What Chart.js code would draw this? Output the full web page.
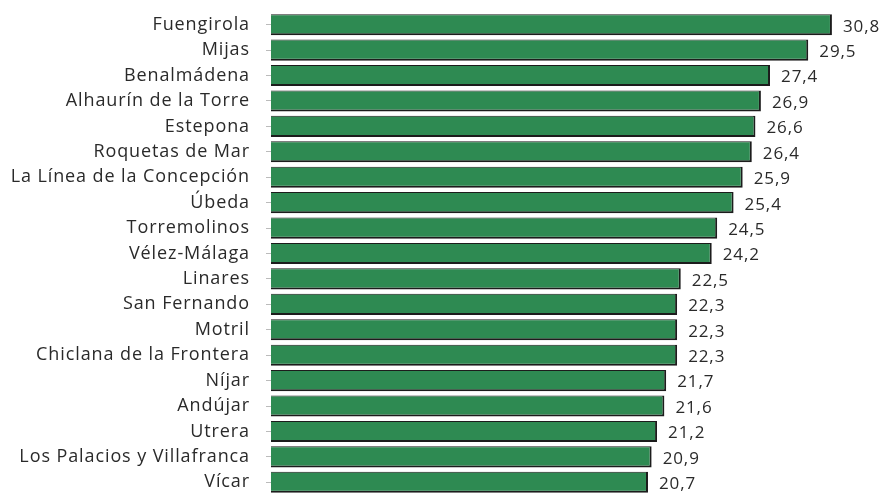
<!DOCTYPE html>
<html>
<head>
<meta charset="utf-8">
<script src="https://cdn.jsdelivr.net/npm/chart.js@4"></script>
<style>
  html, body { margin: 0; padding: 0; background: #fff; }
  #wrap { width: 883px; height: 495px; position: relative; }
</style>
</head>
<body>
<div id="wrap"><canvas id="chart"></canvas></div>
<script>
const municipios = [
  'Fuengirola', 'Mijas', 'Benalmádena', 'Alhaurín de la Torre', 'Estepona',
  'Roquetas de Mar', 'La Línea de la Concepción', 'Úbeda', 'Torremolinos',
  'Vélez-Málaga', 'Linares', 'San Fernando', 'Motril', 'Chiclana de la Frontera',
  'Níjar', 'Andújar', 'Utrera', 'Los Palacios y Villafranca', 'Vícar'
];
const valores = [30.8, 29.5, 27.4, 26.9, 26.6, 26.4, 25.9, 25.4, 24.5, 24.2,
  22.5, 22.3, 22.3, 22.3, 21.7, 21.6, 21.2, 20.9, 20.7];

// slightly looser text, like the original export
const spacing = {
  id: 'spacing',
  beforeDraw(chart) { chart.ctx.letterSpacing = '0.9px'; }
};

// value labels at the end of each bar, with decimal comma
const valueLabels = {
  id: 'valueLabels',
  afterDatasetsDraw(chart) {
    const ctx = chart.ctx;
    const meta = chart.getDatasetMeta(0);
    ctx.save();
    ctx.font = '17px "Open Sans"';
    ctx.fillStyle = '#2a2a2a';
    ctx.textBaseline = 'middle';
    ctx.textAlign = 'left';
    meta.data.forEach((bar, i) => {
      ctx.fillText(valores[i].toFixed(1).replace('.', ','), bar.x + 11, bar.y + 2);
    });
    ctx.restore();
  }
};

new Chart(document.getElementById('chart'), {
  type: 'bar',
  data: {
    labels: municipios,
    datasets: [{
      data: valores,
      backgroundColor: '#2e8a52',
      borderColor: '#1c1c1c',
      borderWidth: { top: 1, right: 2, bottom: 2, left: 0 },
      borderSkipped: 'start',
      barPercentage: 0.83,
      categoryPercentage: 1
    }]
  },
  options: {
    indexAxis: 'y',
    responsive: true,
    maintainAspectRatio: false,
    animation: false,
    layout: { padding: { top: 12, right: 11, bottom: 0, left: 0 } },
    plugins: { legend: { display: false }, tooltip: { enabled: false } },
    scales: {
      x: { display: false, min: 0, max: 33 },
      y: {
        afterFit: s => { s.width = 271; s.paddingTop = 0; s.paddingBottom = 0; },
        border: { display: false },
        grid: { drawOnChartArea: false, offset: false, tickLength: 5, color: '#bbb' },
        ticks: { color: '#2a2a2a', font: { family: 'Open Sans', size: 18 }, padding: 16 }
      }
    }
  },
  plugins: [spacing, valueLabels]
});
</script>
</body>
</html>
